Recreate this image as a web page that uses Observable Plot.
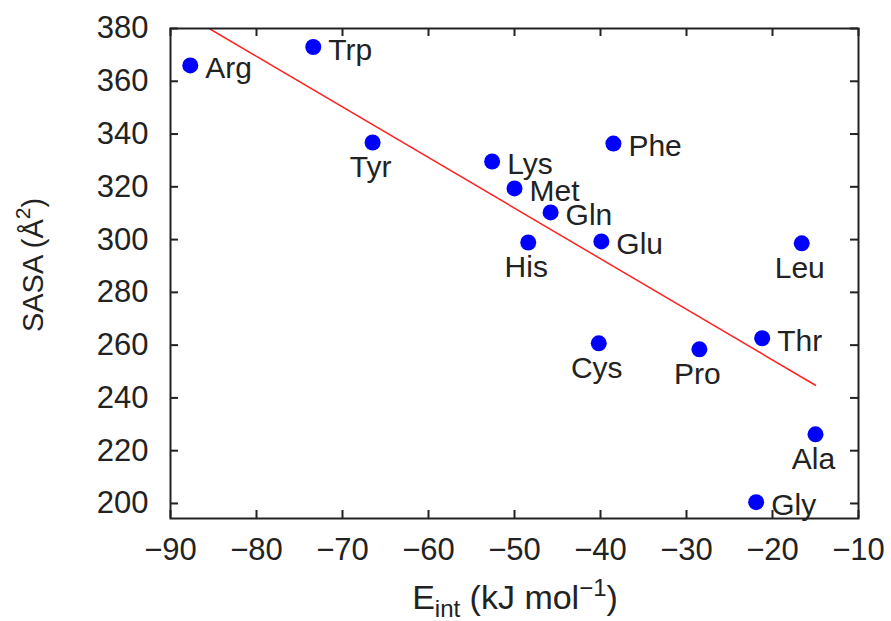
<!DOCTYPE html>
<html>
<head>
<meta charset="utf-8">
<script src="https://cdn.jsdelivr.net/npm/d3@7"></script>
<script src="https://cdn.jsdelivr.net/npm/@observablehq/plot@0.6"></script>
<style>
  html, body { margin: 0; padding: 0; background: #fff; }
  #chart { width: 891px; height: 621px; }
</style>
</head>
<body>
<div id="chart"></div>
<script>
// Data
const residues = ["Arg","Trp","Tyr","Lys","Met","Gln","His","Glu","Phe","Cys","Pro","Thr","Leu","Ala","Gly"];
const eint =     [-87.7,-73.4,-66.5,-52.6,-50.0,-45.8,-48.4,-39.9,-38.5,-40.2,-28.5,-21.2,-16.6,-15.0,-21.9];
const sasa =     [366.0,373.0,336.8,329.6,319.4,310.3,298.9,299.3,336.4,260.7,258.4,262.6,298.6,226.2,200.5];
// Fitted line endpoints
const fitX = [-85.5, -15.0];
const fitY = [380.0, 244.8];
// Axis ticks
const xTicks = [-90,-80,-70,-60,-50,-40,-30,-20,-10];
const yTicks = [200,220,240,260,280,300,320,340,360,380];

const labelsBelow = new Set(["Tyr","His","Cys","Pro","Leu","Ala"]);

const points = residues.map((r, i) => ({name: r, x: eint[i], y: sasa[i]}));
const fit = fitX.map((x, i) => ({x, y: fitY[i]}));

const W = 891, H = 621;
const mL = 170, mR = 33, mT = 28, mB = 103;
const pw = W - mL - mR, ph = H - mT - mB;
const ink = "#222";
const font = "'Liberation Sans', Arial, Helvetica, sans-serif";

const plot = Plot.plot({
  width: W,
  height: H,
  marginLeft: mL, marginRight: mR, marginTop: mT, marginBottom: mB,
  style: {fontFamily: font, fontSize: "31px", color: ink, background: "#fff"},
  x: {domain: [-90, -10], label: null},
  y: {domain: [194.3, 380], label: null},
  marks: [
    Plot.line(fit, {x: "x", y: "y", stroke: "#f22", strokeWidth: 1.5, clip: true}),
    Plot.dot(points, {x: "x", y: "y", r: 8, fill: "#0000ff", stroke: "none"}),
    Plot.text(points.filter(d => !labelsBelow.has(d.name)), {
      x: "x", y: "y", text: "name", textAnchor: "start", dx: 15, dy: 3,
      fontSize: 30, fill: ink
    }),
    Plot.text(points.filter(d => labelsBelow.has(d.name)), {
      x: "x", y: "y", text: "name", textAnchor: "middle", dx: -2, dy: 25,
      fontSize: 30, fill: ink
    }),
    // inward ticks: left, right, bottom, top
    Plot.tickY(yTicks, {y: d => d, insetRight: pw - 8, stroke: ink, strokeWidth: 2}),
    Plot.tickY(yTicks, {y: d => d, insetLeft: pw - 8, stroke: ink, strokeWidth: 2}),
    Plot.tickX(xTicks, {x: d => d, insetTop: ph - 8, stroke: ink, strokeWidth: 2}),
    Plot.tickX(xTicks, {x: d => d, insetBottom: ph - 8, stroke: ink, strokeWidth: 2}),
    Plot.axisX({ticks: xTicks, tickSize: 0, tickPadding: 19, fontSize: 31, fill: ink, label: null}),
    Plot.axisY({ticks: yTicks, tickSize: 0, tickPadding: 22, fontSize: 31, fill: ink, label: null}),
    Plot.frame({stroke: ink, strokeWidth: 2})
  ]
});

document.getElementById("chart").appendChild(plot);

// Axis titles with sub/superscripts
const svg = d3.select(plot);
const xl = svg.append("text")
  .attr("x", mL + pw / 2 + 1)
  .attr("y", 609)
  .attr("text-anchor", "middle")
  .attr("font-family", font)
  .attr("font-size", 34)
  .attr("fill", ink);
xl.append("tspan").text("E");
xl.append("tspan").attr("font-size", 24).attr("dy", 8).text("int");
xl.append("tspan").attr("dy", -8).text(" (kJ mol");
xl.append("tspan").attr("font-size", 24).attr("dy", -13).text("−1");
xl.append("tspan").attr("dy", 13).text(")");

const yl = svg.append("text")
  .attr("transform", `translate(43, ${mT + ph / 2 - 8}) rotate(-90)`)
  .attr("text-anchor", "middle")
  .attr("font-family", font)
  .attr("font-size", 29)
  .attr("fill", ink);
yl.append("tspan").text("SASA (Å");
yl.append("tspan").attr("font-size", 21).attr("dy", -13).text("2");
yl.append("tspan").attr("dy", 13).text(")");
</script>
</body>
</html>
